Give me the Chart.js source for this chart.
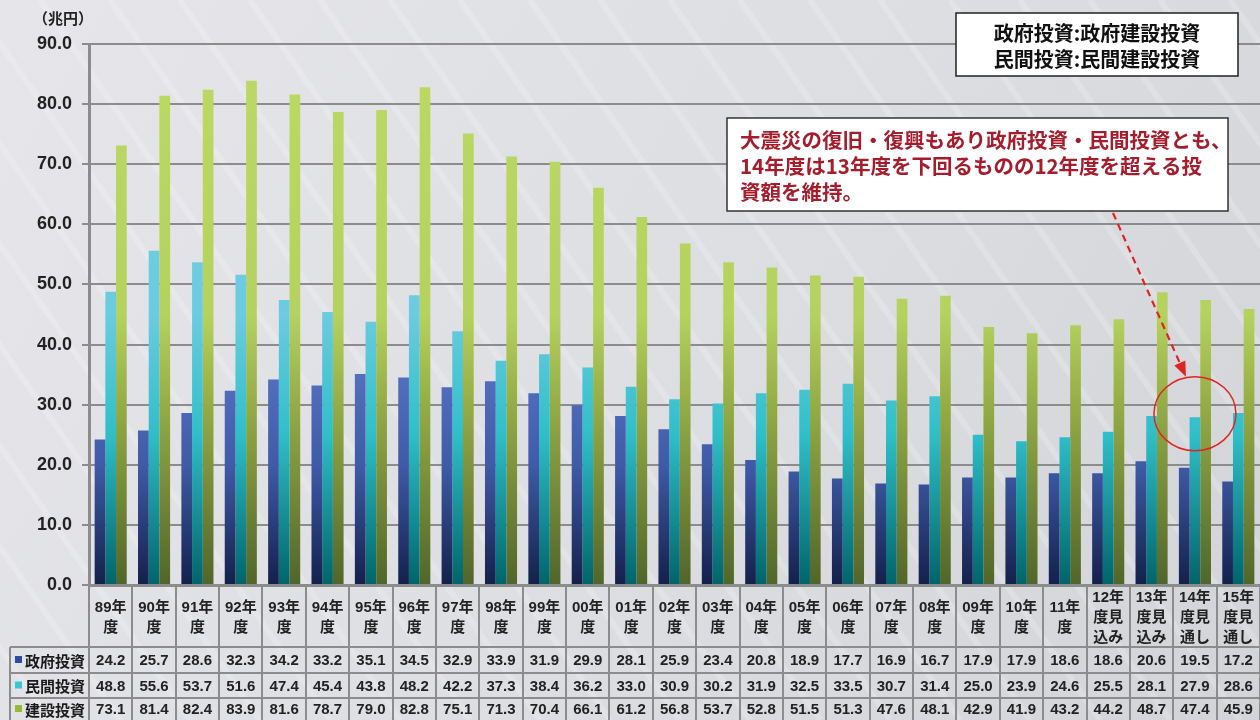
<!DOCTYPE html>
<html>
<head>
<meta charset="utf-8">
<script src="https://cdn.jsdelivr.net/npm/chart.js@4.4.1/dist/chart.umd.min.js"></script>
<style>
  html, body { margin: 0; padding: 0; background: #dcdde1; }
  #wrap { width: 1260px; height: 720px; position: relative; }
</style>
</head>
<body>
<div id="wrap"><canvas id="c" width="1260" height="720"></canvas></div>
<script>
// ---- data ----
const years = ["89","90","91","92","93","94","95","96","97","98","99","00","01","02","03","04","05","06","07","08","09","10","11","12","13","14","15"]
const suffixes = ["度","度","度","度","度","度","度","度","度","度","度","度","度","度","度","度","度","度","度","度","度","度","度","度見\n込み","度見\n込み","度見\n通し","度見\n通し"]
const seriesNames = ["政府投資", "民間投資", "建設投資"]
const gov   = [24.2,25.7,28.6,32.3,34.2,33.2,35.1,34.5,32.9,33.9,31.9,29.9,28.1,25.9,23.4,20.8,18.9,17.7,16.9,16.7,17.9,17.9,18.6,18.6,20.6,19.5,17.2]
const priv  = [48.8,55.6,53.7,51.6,47.4,45.4,43.8,48.2,42.2,37.3,38.4,36.2,33.0,30.9,30.2,31.9,32.5,33.5,30.7,31.4,25.0,23.9,24.6,25.5,28.1,27.9,28.6]
const total = [73.1,81.4,82.4,83.9,81.6,78.7,79.0,82.8,75.1,71.3,70.4,66.1,61.2,56.8,53.7,52.8,51.5,51.3,47.6,48.1,42.9,41.9,43.2,44.2,48.7,47.4,45.9]
const yTicks = [0,10,20,30,40,50,60,70,80,90]
const unitLabel = "（兆円）"
const noteLegend = ["政府投資:政府建設投資", "民間投資:民間建設投資"]
const noteText = ["大震災の復旧・復興もあり政府投資・民間投資とも、", "14年度は13年度を下回るものの12年度を超える投", "資額を維持。"]

const labels = years.map((y, i) => [y + "年"].concat(suffixes[i].split("\n")))

const NUM = "'Liberation Sans', Arial, 'Noto Sans CJK JP', sans-serif"
const JP = "'Noto Sans CJK JP', 'Liberation Sans', sans-serif"
const GRID = "#8c8c8c"

// gradient stops per series (top -> bottom of plot area)
const stops = [
    [[0, "#5b76c6"], [0.6, "#5570bf"], [0.78, "#3f5aa6"], [1, "#13204a"]],
    [[0, "#74d0e4"], [0.5, "#6ccbe0"], [0.72, "#30bfc9"], [1, "#00646a"]],
    [[0, "#bbd964"], [0.5, "#b5d25e"], [0.65, "#98b048"], [1, "#52652a"]]
]
const keyColors = ["#2d4c9e", "#3cc6d0", "#9ab838"]

const gradCache = {}
const barGrad = (ctx, k) => {
    const area = ctx.chart.chartArea
    if (!area) return stops[k][0][1]
    const key = k + ":" + area.top + ":" + area.bottom
    if (gradCache[key]) return gradCache[key]
    const g = ctx.chart.ctx.createLinearGradient(0, area.top, 0, area.bottom)
    stops[k].forEach(s => g.addColorStop(s[0], s[1]))
    gradCache[key] = g
    return g
}

// background + table + notes
const decor = {
    id: "decor",
    beforeDraw(chart) {
        const c = chart.ctx
        c.save()
        const g = c.createLinearGradient(0, 0, 1260, 720)
        g.addColorStop(0, "#e6e6ea")
        g.addColorStop(0.5, "#dedfe3")
        g.addColorStop(1, "#d2d4d8")
        c.fillStyle = g
        c.fillRect(0, 0, chart.width, chart.height)
        // faint diagonal streaks
        c.strokeStyle = "rgba(255,255,255,0.18)"
        c.lineWidth = 6
        for (let i = -800; i < 1400; i += 70) {
            c.beginPath()
            c.moveTo(i, 0)
            c.lineTo(i + 500, 720)
            c.stroke()
        }
        c.restore()
    },
    afterDraw(chart) {
        const c = chart.ctx
        const xs = chart.scales.x
        const ys = chart.scales.y
        const area = chart.chartArea
        const n = years.length
        const step = (area.right - area.left) / n
        const rows = [647, 673, 698, 720]
        c.save()

        // table grid
        c.strokeStyle = GRID
        c.lineWidth = 2
        for (let i = 0; i <= n; i++) {
            const x = Math.round(area.left + i * step)
            c.beginPath()
            c.moveTo(x, area.bottom)
            c.lineTo(x, 720)
            c.stroke()
        }
        c.beginPath(); c.moveTo(10, rows[0]); c.lineTo(10, 720); c.stroke()
        rows.slice(0, 3).forEach(y => {
            c.beginPath(); c.moveTo(10, y); c.lineTo(1260, y); c.stroke()
        })

        // header labels
        c.fillStyle = "#222"
        c.textAlign = "center"
        c.textBaseline = "middle"
        c.font = "bold 15px " + NUM
        labels.forEach((lines, i) => {
            const x = xs.getPixelForValue(i)
            const lh = 20
            const y0 = 618 - (lines.length - 1) * lh / 2
            lines.forEach((t, j) => c.fillText(t, x, y0 + j * lh))
        })

        // values
        const vals = [gov, priv, total]
        c.font = "bold 15px " + NUM
        vals.forEach((arr, r) => {
            const y = (rows[r] + rows[r + 1]) / 2 + 1
            arr.forEach((v, i) => c.fillText(v.toFixed(1), xs.getPixelForValue(i), y))
        })

        // row keys
        c.textAlign = "left"
        c.font = "bold 15px " + JP
        seriesNames.forEach((s, r) => {
            const y = (rows[r] + rows[r + 1]) / 2
            c.fillStyle = keyColors[r]
            c.fillRect(15, y - 4, 7, 7)
            c.fillStyle = "#1a1a1a"
            c.fillText(s, 25, y + 1)
        })

        // unit label
        c.font = "bold 15px " + JP
        c.fillStyle = "#222"
        c.fillText(unitLabel, 33, 18)

        // legend-ish note box
        c.fillStyle = "#fff"
        c.fillRect(956, 13, 282, 63)
        c.strokeStyle = "#222"
        c.lineWidth = 1.5
        c.strokeRect(956, 13, 282, 63)
        c.fillStyle = "#111"
        c.textAlign = "center"
        c.font = "bold 20px " + JP
        c.fillText(noteLegend[0], 1097, 33)
        c.fillText(noteLegend[1], 1097, 59)

        // comment box
        c.fillStyle = "#fff"
        c.fillRect(727, 118, 501, 93)
        c.strokeStyle = "#333"
        c.lineWidth = 1.5
        c.strokeRect(727, 118, 501, 93)
        c.fillStyle = "#a51d2d"
        c.textAlign = "left"
        c.font = "bold 20.5px " + JP
        noteText.forEach((t, i) => c.fillText(t, 740, 140 + i * 26))

        // circle around 14年度
        const cx = xs.getPixelForValue(25)
        const cy = ys.getPixelForValue(28.5)
        c.strokeStyle = "#e02424"
        c.lineWidth = 1.5
        c.beginPath()
        c.ellipse(cx, cy, 41, 37, 0, 0, Math.PI * 2)
        c.stroke()

        // dashed arrow
        const x1 = 1113, y1 = 213, x2 = cx - 9, y2 = cy - 37
        c.setLineDash([7, 5])
        c.lineWidth = 2.2
        c.beginPath()
        c.moveTo(x1, y1)
        const ang = Math.atan2(y2 - y1, x2 - x1)
        c.lineTo(x2 - 13 * Math.cos(ang), y2 - 13 * Math.sin(ang))
        c.stroke()
        c.setLineDash([])
        c.fillStyle = "#e02424"
        c.beginPath()
        c.moveTo(x2, y2)
        c.lineTo(x2 - 15 * Math.cos(ang) + 6 * Math.sin(ang), y2 - 15 * Math.sin(ang) - 6 * Math.cos(ang))
        c.lineTo(x2 - 15 * Math.cos(ang) - 6 * Math.sin(ang), y2 - 15 * Math.sin(ang) + 6 * Math.cos(ang))
        c.closePath()
        c.fill()
        c.restore()
    }
}

const chart = new Chart(document.getElementById("c"), {
    type: "bar",
    data: {
        labels: labels,
        datasets: [gov, priv, total].map((d, k) => ({
            label: seriesNames[k],
            data: d,
            backgroundColor: (ctx) => barGrad(ctx, k),
            borderWidth: 0,
            categoryPercentage: 0.74,
            barPercentage: 1.0
        }))
    },
    options: {
        responsive: false,
        animation: false,
        layout: { padding: { top: 44, right: 0, left: 0, bottom: 0 } },
        plugins: {
            legend: { display: false },
            tooltip: { enabled: false }
        },
        scales: {
            x: {
                grid: { display: false },
                border: { display: true, color: GRID, width: 3 },
                ticks: { display: false },
                afterFit: (s) => { s.height = 135 }
            },
            y: {
                min: 0,
                max: 90,
                afterBuildTicks: (s) => { s.ticks = yTicks.map(v => ({ value: v })) },
                grid: { color: GRID, lineWidth: 2, tickLength: 7 },
                border: { display: true, color: GRID, width: 3 },
                ticks: {
                    padding: 10,
                    color: "#222",
                    font: { family: NUM, size: 18, weight: "bold" },
                    callback: (v) => v.toFixed(1)
                },
                afterFit: (s) => { s.width = 89 }
            }
        }
    },
    plugins: [decor]
})
</script>
</body>
</html>
